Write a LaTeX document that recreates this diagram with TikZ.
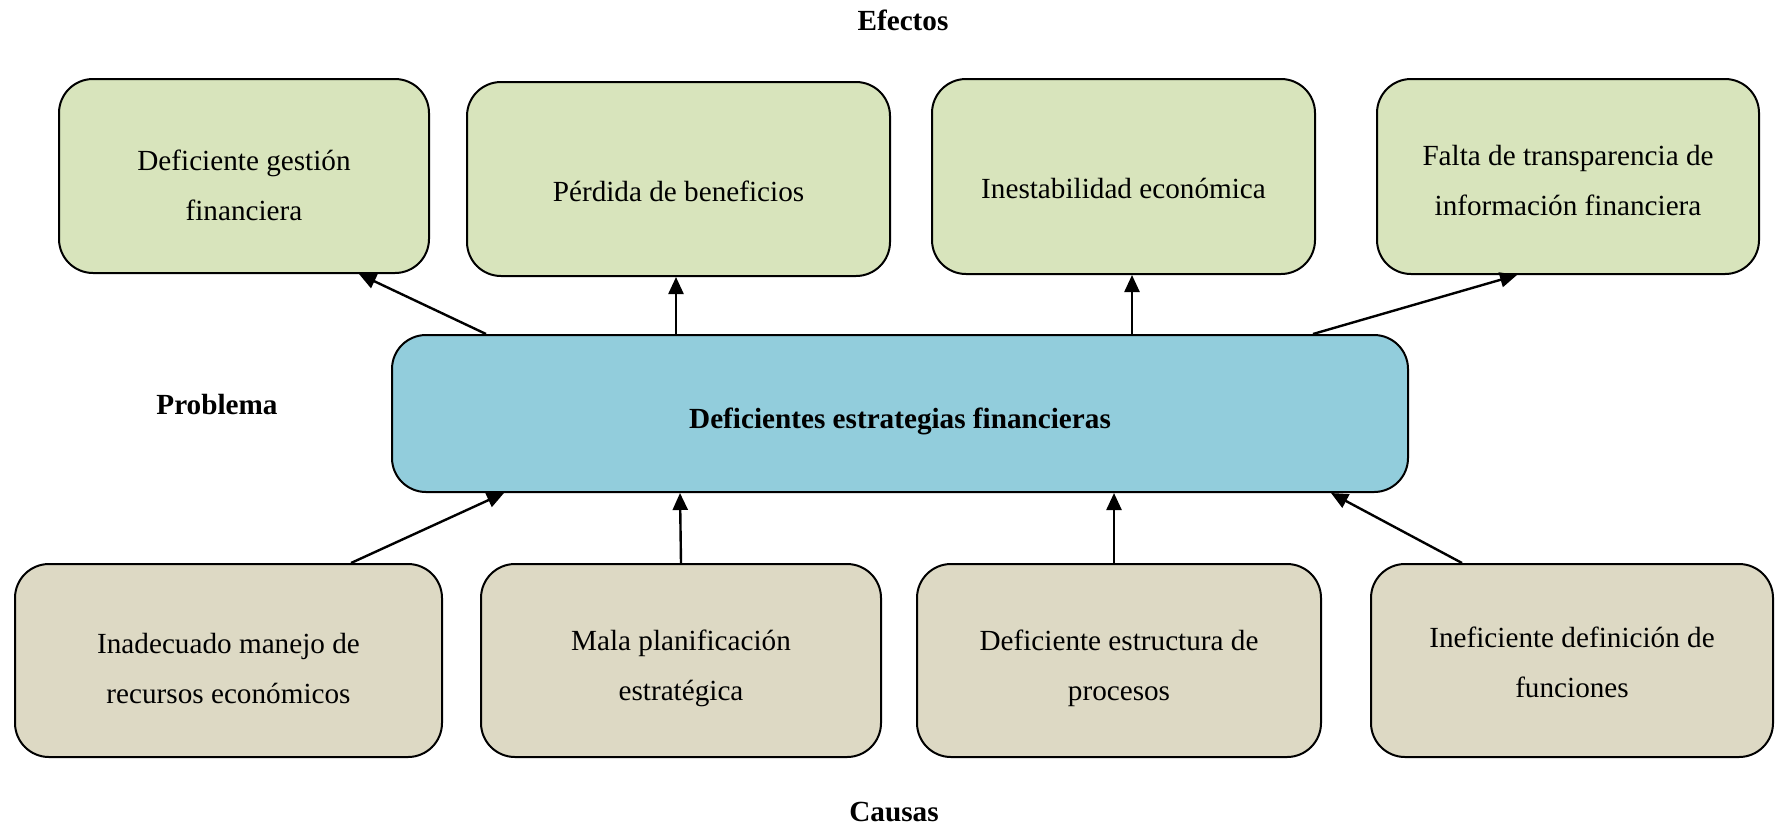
\documentclass[tikz,border=0pt]{standalone}
\usepackage{fontspec}
\setmainfont{Liberation Serif}
\usetikzlibrary{arrows.meta}
\definecolor{efe}{HTML}{D8E4BC}
\definecolor{pro}{HTML}{92CDDC}
\definecolor{cau}{HTML}{DDD9C4}
\tikzset{
  box/.style={draw=black, line width=1pt, rounded corners=17pt, inner sep=0pt},
  txt/.style={font=\fontsize{14.6}{25}\selectfont, align=center, inner sep=0pt},
  arr/.style={line width=1.2pt, -{Triangle[length=8.5pt,width=7.5pt]}},
  head/.style={font=\fontsize{14.6}{18}\selectfont\bfseries, inner sep=0pt}
}
\begin{document}
\begin{tikzpicture}[x=0.5pt, y=-0.5pt]
\useasboundingbox (0,0) rectangle (1776,826);
% effects
\node[box, fill=efe, minimum width=185pt, minimum height=97pt,
  label={[txt, yshift=-4.5pt]center:Deficiente gestión\\financiera}] (e1) at (244,176) {};
\node[box, fill=efe, minimum width=211.5pt, minimum height=97pt,
  label={[txt, yshift=-6pt]center:Pérdida de beneficios}] (e2) at (678.5,179) {};
\node[box, fill=efe, minimum width=191.5pt, minimum height=97.5pt,
  label={[txt, yshift=-6pt]center:Inestabilidad económica}] (e3) at (1123.5,176.5) {};
\node[box, fill=efe, minimum width=191pt, minimum height=97.5pt,
  label={[txt, yshift=-2pt]center:Falta de transparencia de\\información financiera}] (e4) at (1568,176.5) {};
% problem
\node[box, fill=pro, minimum width=508pt, minimum height=78.5pt,
  label={[txt, font=\fontsize{14.6}{25}\selectfont\bfseries, yshift=-4pt]center:Deficientes estrategias financieras}] (c) at (900,413.5) {};
% causes
\node[box, fill=cau, minimum width=213.5pt, minimum height=96.5pt,
  label={[txt, yshift=-4pt]center:Inadecuado manejo de\\recursos económicos}] (k1) at (228.5,660.5) {};
\node[box, fill=cau, minimum width=200pt, minimum height=96.5pt,
  label={[txt, yshift=-4pt]center:Mala planificación\\estratégica}] (k2) at (681,660.5) {};
\node[box, fill=cau, minimum width=202pt, minimum height=96.5pt,
  label={[txt, yshift=-4pt]center:Deficiente estructura de\\procesos}] (k3) at (1119,660.5) {};
\node[box, fill=cau, minimum width=201pt, minimum height=96.5pt,
  label={[txt, yshift=-1pt]center:Ineficiente definición de\\funciones}] (k4) at (1572,660.5) {};
% headings
\node[head] (hef) at (903,20) {Efectos};
\node[head] (hpr) at (217,405) {Problema};
\node[head] (hca) at (894,812) {Causas};
% arrows to effects
\draw[arr] ([xshift=47.5pt]c.north west) -- ([xshift=150.5pt]e1.south west);
\draw[arr] ([xshift=142.5pt]c.north west) -- ([xshift=105pt]e2.south west);
\draw[arr] ([xshift=370.5pt]c.north west) -- ([xshift=100.5pt]e3.south west);
\draw[arr] ([xshift=461pt]c.north west) -- ([xshift=70.5pt]e4.south west);
% arrows from causes
\draw[arr] ([xshift=168.5pt]k1.north west) -- ([xshift=56.5pt]c.south west);
\draw[arr] (k2.north) -- ([xshift=144.5pt]c.south west);
\draw[arr] ([xshift=99pt]k3.north west) -- ([xshift=361.5pt]c.south west);
\draw[arr] ([xshift=46pt]k4.north west) -- ([xshift=470pt]c.south west);
\end{tikzpicture}
\end{document}
